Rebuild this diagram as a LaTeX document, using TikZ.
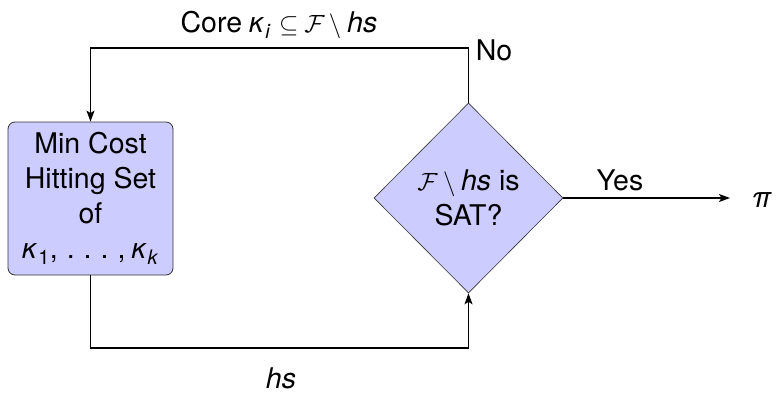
\documentclass[tikz,border=0pt]{standalone}
\usepackage{fontspec}
\setmainfont{TeX Gyre Heros}
\usetikzlibrary{shapes.geometric,arrows.meta}
\newcommand{\kap}{\textit{κ}\hspace{1pt}}
\newcommand{\dgap}{\hspace{9pt}}
\begin{document}
\begin{tikzpicture}[x=1pt,y=-1pt,
  every node/.style={font=\fontsize{28.5}{35}\selectfont},
  procbox/.style={draw=black!80, fill=blue!20, rounded corners=7pt, minimum width=165pt, minimum height=153pt, align=center, inner sep=2pt, line width=0.8pt},
  decbox/.style={draw=black!80, fill=blue!20, diamond, aspect=1, minimum width=189pt, minimum height=190pt, align=center, inner sep=0pt, line width=0.6pt},
  conn/.style={line width=1.3pt, -{Stealth[length=11pt,width=8pt,inset=2.5pt]}},
  lbl/.style={inner sep=0pt}
]
\useasboundingbox (0,0) rectangle (782,399);
\node[procbox] (hit) at (90.5,198.5) {Min Cost\\Hitting Set\\of\\\kap\textsubscript{1},\dgap.\dgap.\dgap.\dgap,\hspace{6pt}\kap\textsubscript{\textit{k}}};
\node[decbox] (sat) at (468.5,198) {$\mathcal{F}\setminus{}$\textit{hs} is\\SAT?};
\node[lbl] (pi) at (762,200) {\textit{π}};
\coordinate (tr) at (468.5,48);
\coordinate (tl) at (90.5,48);
\coordinate (bl) at (90.5,348);
\draw[conn] (sat.north) -- (tr) -- (tl) -- (hit.north);
\draw[conn] (hit.south) -- (bl) -| (sat.south);
\draw[conn] (sat.east) -- (730,198) coordinate (yend);
\node[lbl] (core) at (279,25) {Core\hspace{7pt}\kap\textsubscript{\textit{i}}\hspace{8pt}$\subseteq$\hspace{6pt}$\mathcal{F}$\hspace{4pt}$\setminus$\hspace{6pt}\textit{hs}};
\node[lbl] (no) at (494,50) {No};
\node[lbl] (yes) at (620,180) {Yes};
\node[lbl] (hs) at (281,378) {\textit{hs}};
\end{tikzpicture}
\end{document}
